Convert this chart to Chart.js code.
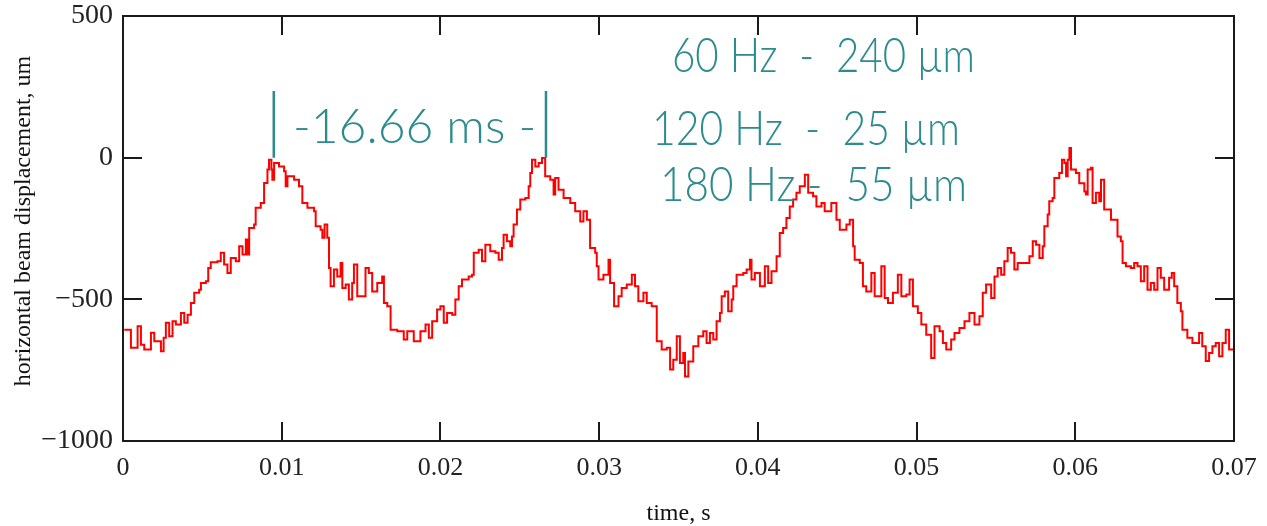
<!DOCTYPE html>
<html>
<head>
<meta charset="utf-8">
<script src="https://cdn.jsdelivr.net/npm/chart.js@4.4.1/dist/chart.umd.min.js"></script>
<style>
  html, body { margin: 0; padding: 0; background: #fff; }
  #wrap { width: 1267px; height: 526px; position: relative; }
</style>
</head>
<body>
<div id="wrap"><canvas id="beamChart"></canvas></div>
<script>
// time in ms
const timeMs = [
  0.08, 0.50, 0.92, 1.13, 1.34, 1.76, 1.97, 2.39, 2.56, 2.70, 2.91, 3.12, 3.33, 3.65, 3.86, 4.07,
  4.28, 4.49, 4.80, 4.91, 5.22, 5.37, 5.53, 5.95, 6.16, 6.37, 6.58, 6.79, 7.11, 7.32, 7.53, 7.74,
  7.84, 7.95, 8.26, 8.36, 8.68, 8.89, 9.10, 9.20, 9.35, 9.41, 9.52, 9.83, 10.15, 10.25, 10.36, 10.78,
  11.09, 11.30, 11.62, 11.93, 12.04, 12.14, 12.45, 12.56, 12.70, 12.87, 12.98, 13.08, 13.29, 13.50, 13.71, 13.82,
  14.03, 14.23, 14.44, 14.55, 14.76, 15.08, 15.28, 15.49, 15.70, 16.02, 16.33, 16.44, 16.65, 16.86, 17.28, 17.69,
  17.91, 18.32, 18.74, 19.06, 19.27, 19.48, 19.79, 20.00, 20.21, 20.42, 20.74, 20.94, 21.15, 21.36, 21.78, 21.99,
  22.10, 22.41, 22.62, 22.83, 23.14, 23.46, 23.67, 23.88, 23.98, 24.19, 24.40, 24.51, 24.61, 24.82, 25.03, 25.35,
  25.56, 25.66, 25.77, 25.98, 26.19, 26.40, 26.60, 26.92, 27.13, 27.23, 27.44, 27.76, 28.18, 28.49, 28.81, 29.01,
  29.23, 29.43, 29.75, 29.85, 29.96, 30.27, 30.59, 30.69, 30.94, 31.22, 31.42, 31.74, 32.06, 32.26, 32.47, 32.79,
  33.00, 33.31, 33.63, 33.94, 34.26, 34.47, 34.67, 34.89, 35.09, 35.30, 35.41, 35.62, 35.93, 36.25, 36.56, 36.77,
  36.98, 37.19, 37.40, 37.61, 37.72, 37.92, 38.13, 38.35, 38.45, 38.66, 39.08, 39.29, 39.50, 39.60, 39.81, 40.13,
  40.44, 40.65, 40.86, 41.18, 41.38, 41.59, 41.80, 42.01, 42.22, 42.43, 42.64, 42.96, 43.17, 43.48, 43.69, 44.01,
  44.21, 44.63, 44.95, 45.16, 45.58, 45.79, 46.00, 46.10, 46.42, 46.62, 46.83, 47.15, 47.36, 47.57, 47.78, 47.99,
  48.20, 48.51, 48.82, 49.04, 49.35, 49.56, 49.77, 50.08, 50.30, 50.61, 50.92, 51.13, 51.45, 51.66, 51.87, 52.18,
  52.39, 52.70, 53.02, 53.33, 53.65, 53.96, 54.17, 54.38, 54.70, 54.91, 55.11, 55.33, 55.53, 55.74, 55.95, 56.16,
  56.37, 56.79, 57.11, 57.32, 57.53, 57.74, 57.95, 58.05, 58.26, 58.36, 58.57, 58.68, 58.99, 59.16, 59.31, 59.42,
  59.52, 59.63, 59.73, 60.04, 60.25, 60.57, 60.67, 60.78, 60.99, 61.09, 61.30, 61.51, 61.62, 61.82, 62.14, 62.25,
  62.45, 62.66, 62.87, 62.98, 63.19, 63.50, 63.71, 63.92, 64.13, 64.34, 64.55, 64.76, 64.97, 65.18, 65.39, 65.60,
  65.91, 66.08, 66.23, 66.43, 66.65, 66.75, 67.06, 67.38, 67.69, 67.80, 68.00, 68.22, 68.43, 68.64, 68.85, 69.06,
  69.27, 69.48, 69.69, 69.90, 70.00
]

// horizontal beam displacement, um
const displacement = [
  -607, -671, -595, -660, -677, -618, -648, -683, -636, -583, -630, -577, -589, -548, -583, -554,
  -513, -477, -466, -442, -436, -389, -369, -366, -336, -377, -407, -354, -366, -313, -342, -289,
  -342, -248, -236, -177, -160, -89, -42, -7, -42, -78, -19, -31, -48, -101, -66, -78,
  -101, -160, -177, -177, -189, -242, -254, -283, -236, -283, -389, -454, -395, -419, -372, -460,
  -448, -501, -442, -377, -489, -489, -389, -407, -472, -442, -419, -513, -524, -607, -613, -642,
  -613, -648, -613, -589, -636, -577, -536, -524, -583, -548, -554, -501, -454, -430, -419, -413,
  -336, -325, -366, -307, -330, -336, -360, -319, -272, -295, -313, -278, -236, -183, -148, -142,
  -101, -54, -7, -31, -19, -1, -66, -78, -130, -72, -113, -142, -160, -189, -225, -189,
  -219, -319, -336, -383, -430, -413, -360, -442, -524, -489, -460, -448, -413, -454, -507, -477,
  -513, -524, -648, -677, -671, -748, -713, -630, -725, -689, -772, -719, -666, -630, -613, -654,
  -619, -642, -577, -548, -489, -472, -542, -501, -454, -413, -407, -395, -360, -430, -407, -454,
  -383, -442, -401, -348, -266, -248, -213, -172, -148, -124, -101, -60, -124, -136, -172, -160,
  -189, -160, -219, -254, -236, -219, -313, -360, -372, -454, -472, -407, -489, -489, -383, -495,
  -513, -477, -413, -489, -483, -430, -524, -548, -589, -625, -707, -595, -613, -654, -677, -642,
  -619, -601, -577, -548, -589, -560, -477, -448, -495, -419, -389, -413, -366, -319, -336, -395,
  -372, -372, -348, -295, -307, -354, -313, -242, -201, -154, -142, -72, -54, -7, -19, -66,
  -7, 34, -42, -54, -90, -119, -130, -42, -36, -160, -124, -154, -78, -183, -183, -219,
  -219, -278, -295, -372, -383, -389, -372, -383, -436, -383, -466, -442, -466, -389, -424, -466,
  -424, -407, -454, -513, -542, -607, -636, -654, -654, -619, -666, -718, -689, -666, -654, -701,
  -654, -607, -677, -677, -607
]

const xTicks = [0, 0.01, 0.02, 0.03, 0.04, 0.05, 0.06, 0.07]
const yTicks = [-1000, -500, 0, 500]

// the two peaks marked by the period cursor (s)
const cursorTimes = [0.0095, 0.02665]
const cursorTop = 235

const periodLabel = '-16.66 ms -'
const harmonicLabels = ['60 Hz  -  240 \u00b5m', '120 Hz  -  25 \u00b5m', '180 Hz -  55 \u00b5m']

const TEAL = '#2b8b8d'
const AXIS = '#1a1a1a'

const points = timeMs.map((t, i) => ({ x: t / 1000, y: displacement[i] }))

const frameAndNotes = {
    id: 'frameAndNotes',
    afterDatasetsDraw(chart) {
        const { ctx, chartArea: a, scales } = chart
        const xs = scales.x
        const ys = scales.y
        ctx.save()

        // box
        ctx.strokeStyle = AXIS
        ctx.lineWidth = 2
        ctx.strokeRect(a.left, a.top, a.right - a.left, a.bottom - a.top)

        // inward ticks on all four sides
        const len = 19
        ctx.beginPath()
        xTicks.slice(1, -1).forEach((v) => {
            const px = Math.round(xs.getPixelForValue(v))
            ctx.moveTo(px, a.bottom)
            ctx.lineTo(px, a.bottom - len)
            ctx.moveTo(px, a.top)
            ctx.lineTo(px, a.top + len)
        })
        yTicks.slice(1, -1).forEach((v) => {
            const py = Math.round(ys.getPixelForValue(v))
            ctx.moveTo(a.left, py)
            ctx.lineTo(a.left + len, py)
            ctx.moveTo(a.right, py)
            ctx.lineTo(a.right - len, py)
        })
        ctx.stroke()

        // axis titles
        ctx.fillStyle = '#111'
        ctx.font = '24px "Liberation Serif", "Times New Roman", serif'
        ctx.textAlign = 'center'
        ctx.textBaseline = 'middle'
        ctx.fillText('time, s', (a.left + a.right) / 2, 514)
        ctx.save()
        ctx.translate(24, 221)
        ctx.rotate(-Math.PI / 2)
        ctx.fillText('horizontal beam displacement, um', 0, 0, 336)
        ctx.restore()

        // period cursor
        ctx.strokeStyle = TEAL
        ctx.lineWidth = 2.5
        ctx.beginPath()
        cursorTimes.forEach((t) => {
            const px = xs.getPixelForValue(t)
            ctx.moveTo(px, ys.getPixelForValue(0))
            ctx.lineTo(px, ys.getPixelForValue(cursorTop))
        })
        ctx.stroke()

        ctx.fillStyle = TEAL
        ctx.textAlign = 'left'
        ctx.textBaseline = 'alphabetic'
        ctx.font = '300 48px Lato, "Open Sans", sans-serif'
        ctx.fillText(periodLabel, 293, 143, 247)
        ctx.fillText(harmonicLabels[0], 672, 72, 303)
        ctx.fillText(harmonicLabels[1], 652, 145, 308)
        ctx.fillText(harmonicLabels[2], 660, 201, 307)

        ctx.restore()
    }
}

new Chart(document.getElementById('beamChart'), {
    type: 'line',
    data: {
        datasets: [
            {
                data: points,
                borderColor: '#ff0000',
                borderWidth: 2,
                pointRadius: 0,
                stepped: true,
                fill: false
            }
        ]
    },
    options: {
        responsive: true,
        maintainAspectRatio: false,
        animation: false,
        layout: { padding: { top: 16, right: 33, left: 0, bottom: 0 } },
        plugins: {
            legend: { display: false },
            tooltip: { enabled: false }
        },
        scales: {
            x: {
                type: 'linear',
                min: 0,
                max: 0.07,
                afterFit: (s) => {
                    s.height = 85
                    s.paddingLeft = 0
                    s.paddingRight = 0
                },
                afterBuildTicks: (s) => { s.ticks = xTicks.map((v) => ({ value: v })) },
                grid: { display: false, drawTicks: false },
                border: { display: false },
                ticks: {
                    padding: 12,
                    color: '#222',
                    font: { family: '"Liberation Serif", "Times New Roman", serif', size: 26 },
                    callback: (v) => (v === 0 ? '0' : v.toFixed(2))
                }
            },
            y: {
                min: -1000,
                max: 500,
                afterFit: (s) => {
                    s.width = 123
                    s.paddingTop = 0
                    s.paddingBottom = 0
                },
                afterBuildTicks: (s) => { s.ticks = yTicks.map((v) => ({ value: v })) },
                grid: { display: false, drawTicks: false },
                border: { display: false },
                ticks: {
                    padding: 10,
                    color: '#222',
                    font: { family: '"Liberation Serif", "Times New Roman", serif', size: 28 },
                    callback: (v) => (v < 0 ? '\u2212' + Math.abs(v) : String(v))
                }
            }
        }
    },
    plugins: [frameAndNotes]
})
</script>
</body>
</html>
